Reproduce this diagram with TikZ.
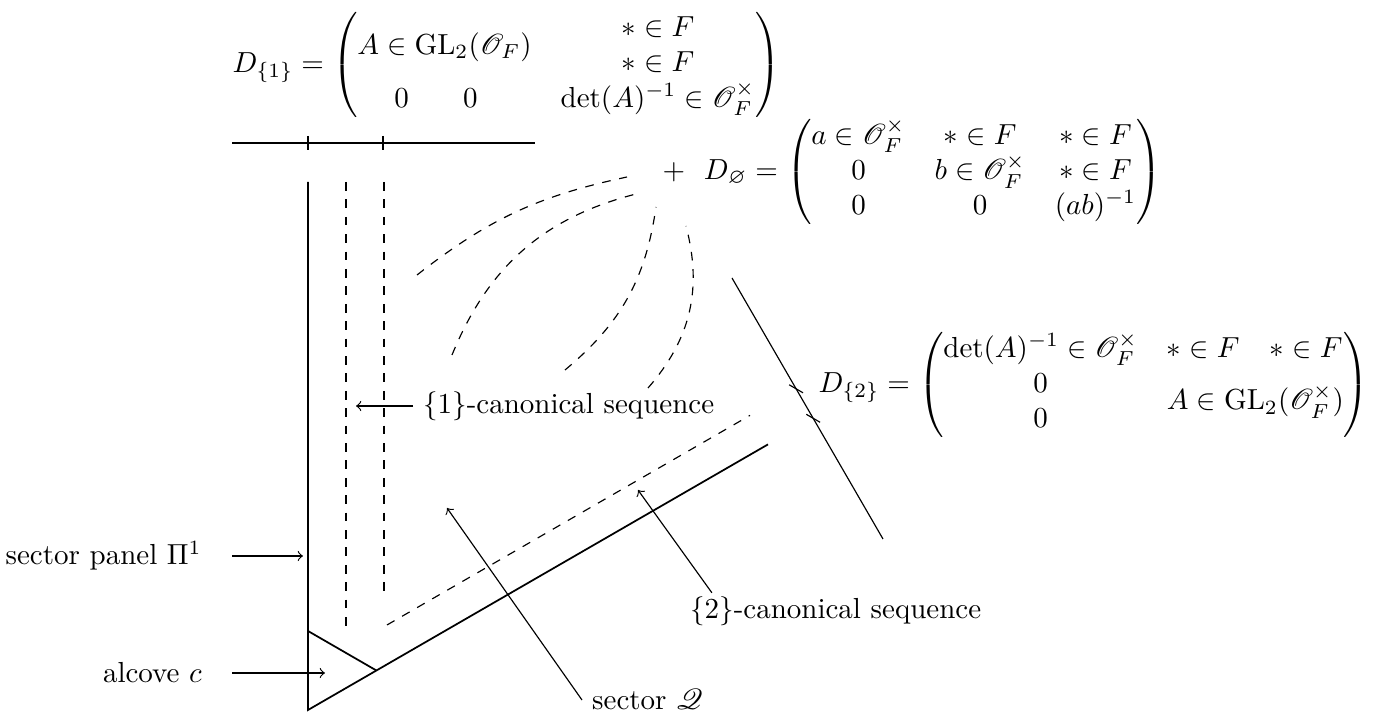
\documentclass[tikz,border=0pt]{standalone}
\usepackage{amsmath,amssymb,mathrsfs}
\usetikzlibrary{positioning}

\begin{document}
\begin{tikzpicture}[x=0.3448pt, y=0.3448pt,
  wall/.style={semithick},
  seq/.style={dashed},
  tick/.style={thin},
  mat/.style={inner sep=0pt}]
\useasboundingbox (0,0) rectangle (1373,-715);

% sector, alcove and the two walls
\coordinate (o) at (308,-710);
\draw[wall] (308,-182) -- (o) -- (768,-444.4);
\draw[wall] (308,-631) -- (376.4,-670.5);
\draw[seq] (346,-182) -- (346,-627);
\draw[seq] (384,-182) -- (384,-597);
\draw[seq] (387,-625) -- (750,-415.4);

% the two cross sections with ticks
\draw[tick] (232,-143) -- (535,-143);
\draw[tick] (308,-136) -- (308,-150);
\draw[tick] (383,-136) -- (383,-150);
\draw[tick] (732,-278) -- (883,-539);
\draw[tick] (789.2,-384.8) -- (803.0,-392.8);
\draw[tick] (806.3,-414.3) -- (820.1,-422.3);

% matrices
\node[mat, anchor=west] (done) at (232,-65) {$D_{\{1\}} = \begin{pmatrix}
  \multicolumn{2}{c}{\smash{\raisebox{-.5\normalbaselineskip}{$A\in\mathrm{GL}_2(\mathscr{O}_F)$}}} & \ast\in F\\
  & & \ast\in F\\
  \quad\;0 & 0\quad & \det(A)^{-1}\in\mathscr{O}_F^{\times}
\end{pmatrix}$};
\node[inner sep=0pt] (pt) at (674,-172) {$+$};
\node[mat, right=6pt of pt] (dempty) {$D_{\varnothing} = \begin{pmatrix}
  a\in\mathscr{O}_F^{\times} & \ast\in F & \ast\in F\\
  0 & b\in\mathscr{O}_F^{\times} & \ast\in F\\
  0 & 0 & (ab)^{-1}
\end{pmatrix}$};
\node[mat, anchor=west] (dtwo) at (818,-385) {$D_{\{2\}} = \begin{pmatrix}
  \det(A)^{-1}\in\mathscr{O}_F^{\times} & \ast\in F & \ast\in F\\
  0 & \multicolumn{2}{c}{\smash{\raisebox{-.5\normalbaselineskip}{$A\in\mathrm{GL}_2(\mathscr{O}_F^{\times})$}}}\\
  0 & &
\end{pmatrix}$};

% canonical sequences out of the point
\draw[seq] (417,-275) to[bend left=13] (627,-177);
\draw[seq] (452,-355) to[bend left=27] (640,-193);
\draw[seq] (565,-370) to[bend right=21] (656,-207);
\draw[seq] (648,-388) to[bend right=28] (686,-226);

% labels
\node[anchor=west] (seq1) at (413,-406) {$\{1\}$-canonical sequence};
\node[anchor=east] (panel) at (212,-556) {sector panel $\Pi^1$};
\node[anchor=east] (alcove) at (212,-673) {alcove $c$};
\node[anchor=base west] (secq) at (582,-710) {sector $\mathscr{Q}$};
\node[anchor=base west] (seq2) at (680,-619) {$\{2\}$-canonical sequence};

\coordinate (tip1) at (356,-406);
\coordinate (tippanel) at (303,-556);
\coordinate (tipalc) at (325,-673);
\coordinate (tipq) at (447,-508);
\coordinate (tip2) at (638,-490);

\draw[->] (seq1.west) -- (tip1);
\draw[->] ([xshift=7pt]panel.east) -- (tippanel);
\draw[->] ([xshift=7pt]alcove.east) -- (tipalc);
\draw[->] (secq.west) -- (tipq);
\draw[->] ([shift={(11pt,-2pt)}]seq2.north west) -- (tip2);
\end{tikzpicture}
\end{document}
